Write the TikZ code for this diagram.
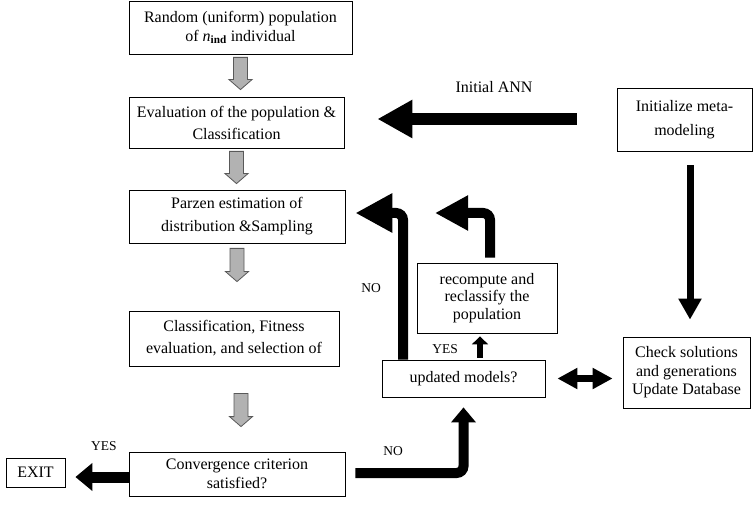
\documentclass[tikz,border=0pt]{standalone}
\usepackage{fontspec}
\setmainfont{Liberation Serif}
\usetikzlibrary{arrows.meta,calc}
\begin{document}
\begin{tikzpicture}[x=1pt,y=-1pt,
  box/.style={draw, line width=0.8pt, inner sep=0pt, align=center, font=\fontsize{16}{19}\selectfont},
  lbl/.style={font=\fontsize{13.5}{16}\selectfont, anchor=base, inner sep=0pt},
  grayarr/.style={draw=black!65, fill=black!30, line width=0.8pt,
    to path={let \p1=(\tikztostart), \p2=(\tikztotarget) in
      (\x1-7pt,\y1) -- (\x1+7pt,\y1) -- (\x1+7pt,\y2+10pt) -- (\x1+11.5pt,\y2+10pt)
      -- (\x1,\y2) -- (\x1-11.5pt,\y2+10pt) -- (\x1-7pt,\y2+10pt) -- cycle}}
]
\fill[white] (0,0) rectangle (754,510);
\useasboundingbox (0,0) rectangle (754,510);

% boxes
\node[box, minimum width=223pt, minimum height=53pt] (b1) at (240.5,27.5)
  {Random (uniform) population\\of \textit{n}\textsubscript{\textbf{ind}} individual};
\node[box, minimum width=215pt, minimum height=51pt, font=\fontsize{16}{22}\selectfont] (b2) at (236.5,122.5)
  {Evaluation of the population \&\\Classification};
\node[box, minimum width=216pt, minimum height=53pt, font=\fontsize{16}{23}\selectfont] (b3) at (237,216.5)
  {Parzen estimation of\\distribution \&Sampling};
\node[box, minimum width=210pt, minimum height=55pt, font=\fontsize{16}{22}\selectfont] (b4) at (234,338.5)
  {Classification, Fitness\\evaluation, and selection of};
\node[box, minimum width=216pt, minimum height=44pt] (b5) at (237,474)
  {Convergence criterion\\satisfied?};
\node[box, minimum width=59pt, minimum height=29pt] (exit) at (35.5,472.5) {EXIT};
\node[box, minimum width=163pt, minimum height=37pt] (upd) at (463.5,378.5) {updated models?};
\node[box, minimum width=140pt, minimum height=70pt, font=\fontsize{16}{17.5}\selectfont] (rec) at (487,298)
  {recompute and\\reclassify the\\population};
\node[box, minimum width=127pt, minimum height=71pt, font=\fontsize{16}{18.5}\selectfont] (chk) at (686.5,372.5)
  {Check solutions\\and generations\\Update Database};
\node[box, minimum width=135pt, minimum height=63pt, font=\fontsize{16}{24}\selectfont] (ini) at (684.5,119.5)
  {Initialize meta-\\modeling};

% labels
\node[lbl, font=\fontsize{16}{19}\selectfont] (ann) at (494,93) {Initial ANN};
\node[lbl] (yes1) at (104,450) {YES};
\node[lbl] (yes2) at (445,353) {YES};
\node[lbl] (no1) at (393,455) {NO};
\node[lbl] (no2) at (371,292) {NO};

% gray block arrows
\draw[grayarr] ([yshift=-3pt]b1.south) to ([yshift=7pt]b2.north);
\draw[grayarr] ([yshift=-3pt]b2.south) to ([yshift=6pt]b3.north);
\draw[grayarr] ([yshift=-5pt]b3.south) to ([yshift=29pt]b4.north);
\draw[grayarr] ([xshift=7pt,yshift=-27pt]b4.south) to ([xshift=4pt,yshift=25pt]b5.north);

% black arrows
\draw[line width=12pt, -{Triangle[width=36pt,length=35pt]}, shorten >=33pt]
  ([xshift=-40pt,yshift=0.5pt]ini.west) -- ([yshift=0.5pt]ini.west -| b2.east);
\draw[line width=7pt, -{Triangle[width=22pt,length=21pt]}]
  ([xshift=5.5pt,yshift=-14pt]ini.south) -- ([xshift=3.5pt,yshift=17pt]chk.north);
\draw[line width=7pt, {Triangle[width=20pt,length=20pt]}-{Triangle[width=20pt,length=20pt]},
  shorten <=12pt, shorten >=10pt] (upd.east) -- (upd.east -| chk.west);
\draw[line width=10pt, rounded corners=7pt, -{Triangle[width=24pt,length=15pt]},
  shorten <=10pt, shorten >=10pt] ([yshift=1pt]b5.east) -| (upd.south);
\draw[line width=11pt, -{Triangle[width=27pt,length=17pt]}, shorten >=10pt]
  ([yshift=-3pt]b5.west) -- ([yshift=-3pt]b5.west -| exit.east);
\draw[line width=10pt, rounded corners=7pt, -{Triangle[width=37pt,length=37pt]}, shorten >=10pt]
  ([xshift=-60.5pt]upd.north) |- ([yshift=3.5pt]b3.east);
\coordinate (t2) at (435,213);
\draw[line width=10pt, rounded corners=7pt, -{Triangle[width=33pt,length=33pt]}]
  ([xshift=3pt,yshift=5pt]rec.north) |- (t2);
\draw[line width=6pt, -{Triangle[width=16pt,length=8pt]}]
  ([xshift=16.5pt,yshift=2pt]upd.north) -- ([xshift=-7pt,yshift=-3pt]rec.south);
\end{tikzpicture}
\end{document}
